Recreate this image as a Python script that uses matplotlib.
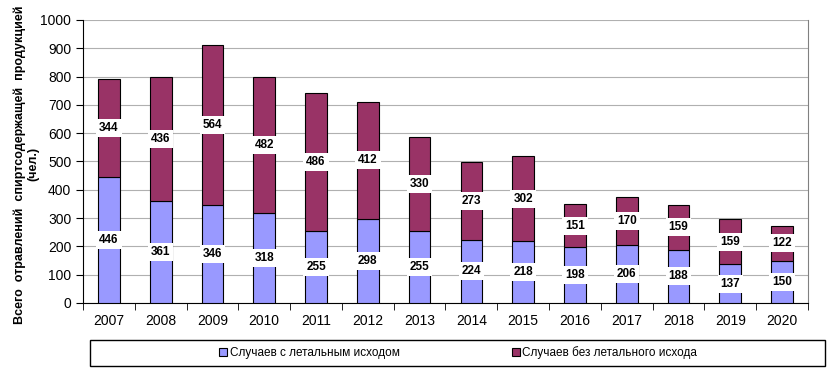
import numpy as np
import matplotlib.pyplot as plt
from matplotlib.patches import Rectangle

plt.rcParams['font.family'] = ['Liberation Sans', 'DejaVu Sans']

years = ['2007', '2008', '2009', '2010', '2011', '2012', '2013',
         '2014', '2015', '2016', '2017', '2018', '2019', '2020']
fatal = [446, 361, 346, 318, 255, 298, 255, 224, 218, 198, 206, 188, 137, 150]
nonfatal = [344, 436, 564, 482, 486, 412, 330, 273, 302, 151, 170, 159, 159, 122]

c_fatal = '#9999FF'
c_non = '#993366'

fig = plt.figure(figsize=(8.37, 3.76), dpi=100)
ax = fig.add_axes([83/837, 1 - 303/376, (808-83)/837, (303-20)/376])

x = np.arange(len(years))
w = 0.42
b1 = ax.bar(x, fatal, w, color=c_fatal, edgecolor='black', linewidth=0.8, zorder=3,
            label='Случаев с летальным исходом')
b2 = ax.bar(x, nonfatal, w, bottom=fatal, color=c_non, edgecolor='black', linewidth=0.8,
            zorder=3, label='Случаев без летального исхода')

for i in range(len(years)):
    for y, v in [(fatal[i] / 2, fatal[i]), (fatal[i] + nonfatal[i] / 2, nonfatal[i])]:
        ax.text(x[i], y, str(v), ha='center', va='center', fontsize=8.5, fontweight='bold',
                zorder=4, bbox=dict(boxstyle='square,pad=0.25', fc='white', ec='none'))

ax.set_xlim(-0.5, len(years) - 0.5)
ax.set_ylim(0, 1000)
ax.set_yticks(range(0, 1001, 100))
ax.yaxis.grid(True, color='#b0b0b0', linewidth=0.8, zorder=0)
ax.set_xticks(x)
ax.set_xticklabels(years)
ax.set_xticks(np.arange(-0.5, len(years), 1), minor=True)
ax.tick_params(axis='x', which='major', length=0, pad=8, labelsize=10)
ax.tick_params(axis='x', which='minor', length=5, direction='out')
ax.tick_params(axis='y', length=5, direction='out', labelsize=10)
ax.spines['top'].set_visible(False)
ax.spines['right'].set_color('#808080')
ax.set_ylabel('Всего  отравлений  спиртсодержащей  продукцией\n(чел.)',
              fontsize=9, fontweight='bold', labelpad=6)
ax.yaxis.set_label_coords(-0.06, 0.49)

# legend box
fig.patches.append(Rectangle((90/837, 1 - 366/376), (825-90)/837, 26/376,
                             transform=fig.transFigure, fill=False,
                             edgecolor='black', linewidth=1))
leg = fig.legend(handles=[b1, b2], loc='center', ncol=2,
                 bbox_to_anchor=(458/837, 1 - 353/376),
                 fontsize=8.5, frameon=False,
                 handlelength=0.7, handleheight=0.7, handletextpad=0.2,
                 columnspacing=9.5)

fig.savefig('out.png', dpi=100)
